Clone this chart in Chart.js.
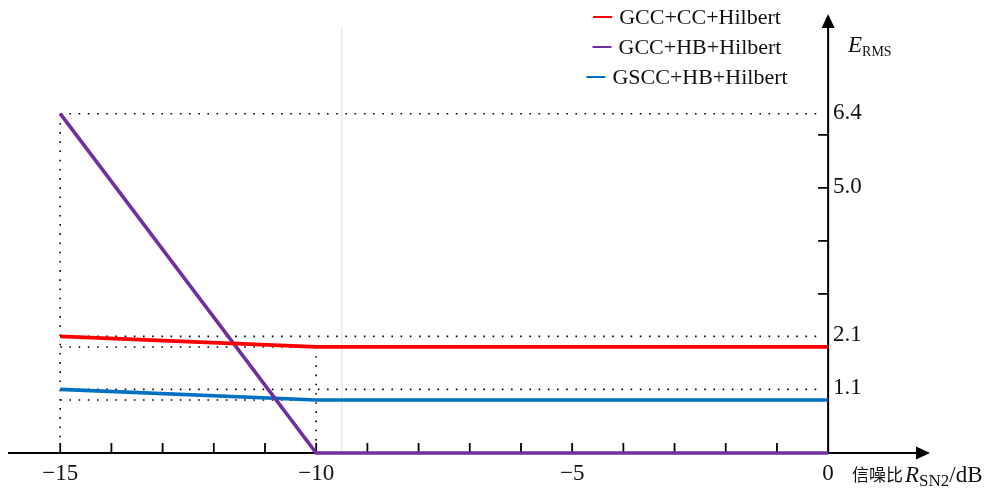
<!DOCTYPE html>
<html>
<head>
<meta charset="utf-8">
<script src="https://cdn.jsdelivr.net/npm/chart.js@4/dist/chart.umd.min.js"></script>
<style>
  body { margin: 0; background: #fff; }
  #wrap { width: 997px; height: 489px; }
</style>
</head>
<body>
<div id="wrap"><canvas id="chart" width="997" height="489"></canvas></div>
<script>
// SNR values (dB) and E_RMS per method
var snr = [-15, -10, 0];
var seriesNames = ['GCC+CC+Hilbert', 'GCC+HB+Hilbert', 'GSCC+HB+Hilbert'];
var gccCc = [2.2, 2.0, 2.0];
var gccHb = [6.4, 0, 0];
var gsccHb = [1.2, 1.0, 1.0];
var seriesColors = ['#ff0000', '#7030a0', '#0070c0'];

var xTickValues = [-15, -10, -5, 0];
var xTickLabels = ['\u221215', '\u221210', '\u22125', '0'];
var xMinorTicks = [-15, -14, -13, -12, -11, -10, -9, -8, -7, -6, -5, -4, -3, -2, -1];
var yTickValues = [6.4, 5.0, 2.2, 1.2];
var yTickLabels = ['6.4', '5.0', '2.1', '1.1'];
var yMinorTicks = [1, 2, 3, 4, 5, 6];

var SERIF = '"Liberation Serif", "Times New Roman", serif';

function pts(ys) {
    return snr.map(function (x, i) { return { x: x, y: ys[i] }; });
}

var axesPlugin = {
    id: 'axesPlugin',
    beforeDatasetsDraw: function (chart) {
        var ctx = chart.ctx, xs = chart.scales.x, ys = chart.scales.y;
        var x0 = xs.getPixelForValue(0), y0 = ys.getPixelForValue(0);
        var left = chart.chartArea.left, right = chart.chartArea.right, top = chart.chartArea.top;
        ctx.save();

        // faint guide line
        ctx.strokeStyle = '#e9edf3';
        ctx.lineWidth = 2;
        ctx.beginPath();
        var gx = xs.getPixelForValue(-9.5);
        ctx.moveTo(gx, 28); ctx.lineTo(gx, y0);
        ctx.stroke();

        // dotted reference lines
        ctx.strokeStyle = '#000';
        ctx.lineWidth = 1.6;
        ctx.setLineDash([1.6, 7.6]);
        var xa = xs.getPixelForValue(snr[0]), xb = xs.getPixelForValue(snr[1]);
        var xEnd = x0 - 8;
        function hline(xs1, xs2, v) {
            var py = ys.getPixelForValue(v);
            ctx.beginPath(); ctx.moveTo(xs1, py); ctx.lineTo(xs2, py); ctx.stroke();
        }
        function vline(px, v) {
            ctx.beginPath(); ctx.moveTo(px, ys.getPixelForValue(v)); ctx.lineTo(px, y0 - 8); ctx.stroke();
        }
        hline(xa, xEnd, gccHb[0]);
        hline(xa, xEnd, gccCc[0]);
        hline(xa, xEnd, gsccHb[0]);
        hline(xa, xb, gccCc[1]);
        hline(xa, xb, gsccHb[1]);
        vline(xa, gccHb[0]);
        vline(xb, gccCc[1]);
        ctx.setLineDash([]);

        // axes
        ctx.strokeStyle = '#000';
        ctx.fillStyle = '#000';
        ctx.lineWidth = 2;
        ctx.beginPath();
        ctx.moveTo(left, y0); ctx.lineTo(right - 10, y0);
        ctx.moveTo(x0, y0); ctx.lineTo(x0, top + 10);
        ctx.stroke();
        // arrows
        ctx.beginPath();
        ctx.moveTo(right, y0); ctx.lineTo(right - 14, y0 - 6.5); ctx.lineTo(right - 14, y0 + 6.5); ctx.closePath();
        ctx.fill();
        ctx.beginPath();
        ctx.moveTo(x0, top); ctx.lineTo(x0 - 6.5, top + 14); ctx.lineTo(x0 + 6.5, top + 14); ctx.closePath();
        ctx.fill();

        // tick marks
        ctx.lineWidth = 1.8;
        ctx.beginPath();
        xMinorTicks.forEach(function (v) {
            var px = xs.getPixelForValue(v);
            ctx.moveTo(px, y0); ctx.lineTo(px, y0 - 10);
        });
        yMinorTicks.forEach(function (v) {
            var py = ys.getPixelForValue(v);
            ctx.moveTo(x0, py); ctx.lineTo(x0 - 10, py);
        });
        ctx.stroke();

        // tick labels
        ctx.fillStyle = '#111';
        ctx.font = '23px ' + SERIF;
        ctx.textBaseline = 'middle';
        ctx.textAlign = 'center';
        xTickValues.forEach(function (v, i) {
            ctx.fillText(xTickLabels[i], xs.getPixelForValue(v), y0 + 21);
        });
        ctx.textAlign = 'left';
        yTickValues.forEach(function (v, i) {
            ctx.fillText(yTickLabels[i], x0 + 5, ys.getPixelForValue(v) - 1);
        });

        // axis titles
        ctx.textBaseline = 'alphabetic';
        ctx.font = 'italic 23px ' + SERIF;
        ctx.fillText('E', 848, 52);
        var ew = ctx.measureText('E').width;
        ctx.font = '14px ' + SERIF;
        ctx.fillText('RMS', 848 + ew, 56);

        var tx = 852, ty = 482;
        ctx.font = '17px "Noto Sans CJK SC", sans-serif';
        ctx.fillText('信噪比', tx, ty - 1);
        tx = 905;
        ctx.font = 'italic 23px ' + SERIF;
        ctx.fillText('R', tx, ty);
        tx += ctx.measureText('R').width;
        ctx.font = '17px ' + SERIF;
        ctx.fillText('SN2', tx, ty + 4);
        tx += ctx.measureText('SN2').width;
        ctx.font = '23px ' + SERIF;
        ctx.fillText('/dB', tx, ty);

        ctx.restore();
    },
    afterDraw: function (chart) {
        // legend, centred items stacked top right
        var ctx = chart.ctx;
        ctx.save();
        ctx.font = '22px ' + SERIF;
        ctx.textBaseline = 'middle';
        ctx.textAlign = 'left';
        var cx = 687;
        chart.data.datasets.forEach(function (ds, i) {
            var y = 17 + i * 30;
            var tw = ctx.measureText(ds.label).width;
            var start = cx - (19 + 7 + tw) / 2;
            ctx.strokeStyle = ds.borderColor;
            ctx.lineWidth = 2;
            ctx.beginPath();
            ctx.moveTo(start, y); ctx.lineTo(start + 19, y);
            ctx.stroke();
            ctx.fillStyle = '#111';
            ctx.fillText(ds.label, start + 26, y + 1);
        });
        ctx.restore();
    }
};

var ctx = document.getElementById('chart').getContext('2d');
var chart = new Chart(ctx, {
    type: 'line',
    data: {
        datasets: [
            { label: seriesNames[0], data: pts(gccCc), borderColor: seriesColors[0] },
            { label: seriesNames[1], data: pts(gccHb), borderColor: seriesColors[1] },
            { label: seriesNames[2], data: pts(gsccHb), borderColor: seriesColors[2] }
        ]
    },
    options: {
        responsive: false,
        animation: false,
        layout: { padding: { left: 8, right: 67, top: 14, bottom: 36 } },
        elements: {
            point: { radius: 0 },
            line: { borderWidth: 3.7, tension: 0, borderCapStyle: 'butt' }
        },
        datasets: { line: { clip: false } },
        scales: {
            x: { type: 'linear', min: -16.02, max: 1.99, display: false },
            y: { type: 'linear', min: 0, max: 8.28, display: false }
        },
        plugins: {
            legend: { display: false },
            tooltip: { enabled: false }
        }
    },
    plugins: [axesPlugin]
});
</script>
</body>
</html>
